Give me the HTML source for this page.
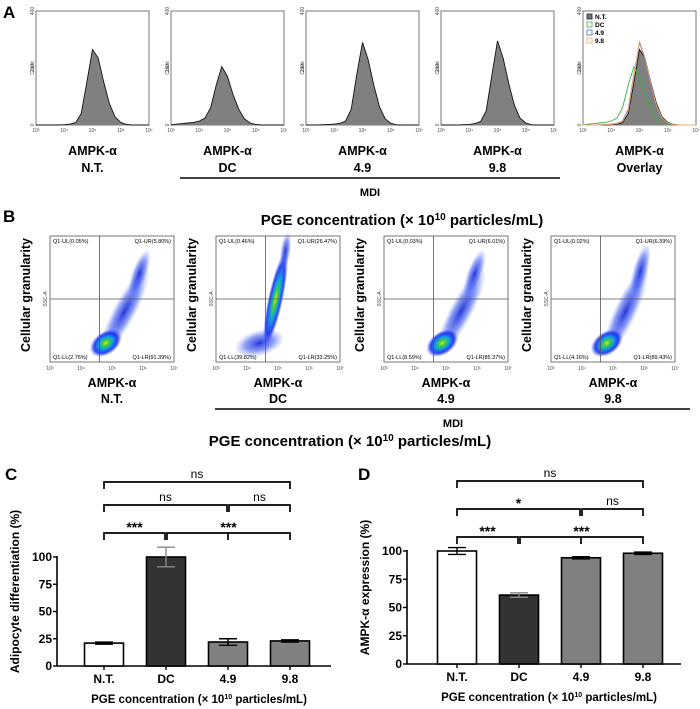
<!DOCTYPE html>
<html><head><meta charset="utf-8"><style>
body{margin:0;background:#fff}
svg{display:block;font-family:"Liberation Sans",Arial,sans-serif}
</style></head><body>
<svg id="fig" width="700" height="709" viewBox="0 0 700 709" xmlns="http://www.w3.org/2000/svg">
<defs>
<radialGradient id="blob" cx="50%" cy="50%" r="50%">
<stop offset="0" stop-color="#f0e000"/><stop offset="0.2" stop-color="#40d040"/><stop offset="0.45" stop-color="#10a0e0"/><stop offset="0.75" stop-color="#1020f0" stop-opacity="0.85"/><stop offset="1" stop-color="#4060ff" stop-opacity="0.1"/>
</radialGradient>
<radialGradient id="blue" cx="50%" cy="50%" r="50%">
<stop offset="0" stop-color="#0018d0" stop-opacity="0.85"/><stop offset="0.6" stop-color="#2040f0" stop-opacity="0.5"/><stop offset="1" stop-color="#6080ff" stop-opacity="0.05"/>
</radialGradient>
</defs>
<g id="panelA"></g>
<g id="panelB"></g>
<g id="panelC"></g>
<g id="panelD"></g>
</svg>
<script>
// ---------- data ----------
const histBinsLog = [3.0,3.2,3.4,3.6,3.8,4.0,4.2,4.4,4.6,4.8,5.0,5.2,5.4,5.6,5.8,6.0,6.2,6.4,6.6,6.8,7.0];
const histNT  = [0,0,0,0,0,1,3,8,40,150,265,235,150,75,28,9,2,0,0,0,0];
const histDC  = [0,3,5,7,9,14,24,60,140,205,170,105,55,22,7,2,0,0,0,0,0];
const hist49  = [0,0,0,1,2,3,6,14,55,180,290,230,140,65,22,6,1,0,0,0,0];
const hist98  = [0,0,0,0,1,2,5,12,50,175,295,235,145,68,24,7,1,0,0,0,0];
const histLabels = [["AMPK-α","N.T."],["AMPK-α","DC"],["AMPK-α","4.9"],["AMPK-α","9.8"],["AMPK-α","Overlay"]];
const scatterQuads = [["0.05","5.80","2.76","91.39"],["0.46","26.47","39.82","33.25"],["0.03","6.01","8.59","85.37"],["0.02","6.39","4.16","89.43"]];
const scatterLabels = ["N.T.","DC","4.9","9.8"];
const barCategories = ["N.T.","DC","4.9","9.8"];
const adipoValues = [21,100,22,23];
const adipoErrors = [1,9,3,1];
const ampkValues = [100,61,94,98];
const ampkErrors = [3,2,1,1];
const yTicks = [0,25,50,75,100];
const sigC = ["***","***","ns","ns","ns"];
const sigD = ["***","***","*","ns","ns"];

const NS="http://www.w3.org/2000/svg";
function mk(parent,tag,attrs,text){const e=document.createElementNS(NS,tag);for(const k in attrs)e.setAttribute(k,attrs[k]);if(text!==undefined)e.textContent=text;parent.appendChild(e);return e;}

// ---------- Panel A ----------
const A=document.getElementById('panelA');
const t0=mk(A,'text',{x:3,y:18,'font-size':17,'font-weight':'bold'},'A');


const boxXs=[36,171,306,441,583], bw=113, by=11, bh=114;
const series=[histNT,histDC,hist49,hist98];
const ovColors=["#222","#3cb043","#3a6fd0","#f5a860"];
function hx(bx,l){return bx+(l-3)/4*bw;}
function hy(c){return by+bh-c/400*bh;}
function pathFor(bx,arr){let d=`M${hx(bx,histBinsLog[0])},${hy(0)}`;arr.forEach((c,i)=>{d+=` L${hx(bx,histBinsLog[i]).toFixed(1)},${hy(c).toFixed(1)}`;});d+=` L${hx(bx,7)},${hy(0)}`;return d;}
boxXs.forEach((bx,p)=>{
  const g=mk(A,'g',{});
  
  
  mk(g,'rect',{x:bx,y:by,width:bw,height:bh,fill:'none',stroke:'#555','stroke-width':0.8});
  if(p<4){
    const pa=mk(g,'path',{d:pathFor(bx,series[p]),fill:'#808080',stroke:'#111','stroke-width':0.9});
    
    
  } else {
    mk(g,'path',{d:pathFor(bx,histNT),fill:'#808080',stroke:'#111','stroke-width':0.9});
    [histDC,hist49,hist98].forEach((arr,i)=>{
      const pl=mk(g,'path',{d:pathFor(bx,arr),fill:'none',stroke:ovColors[i+1],'stroke-width':0.9});
      
      
    });
    const lg=mk(g,'g',{});
    
    
    ["N.T.","DC","4.9","9.8"].forEach((n,i)=>{
      mk(lg,'rect',{x:bx+4,y:by+3+i*8,width:5,height:5,fill:i==0?'#777':'none',stroke:ovColors[i],'stroke-width':0.8});
      mk(lg,'text',{x:bx+12,y:by+8+i*8,'font-size':6.5,'font-weight':'bold'},n);
    });
  }
  [0,200,400].forEach(v=>{mk(g,'text',{x:bx-4,y:hy(v)+2,'font-size':5,transform:`rotate(-90 ${bx-4} ${hy(v)})`,'text-anchor':'middle',fill:'#444'},v);});
  mk(g,'text',{x:bx-4,y:by+bh/2+2,'font-size':5,transform:`rotate(-90 ${bx-4} ${by+bh/2})`,'text-anchor':'middle',fill:'#444'},'Count');
  [3,4,5,6,7].forEach(l=>{mk(g,'text',{x:hx(bx,l),y:by+bh+7,'font-size':5,'text-anchor':'middle',fill:'#444'},'10'+['³','⁴','⁵','⁶','⁷'][l-3]);});
  const cx=bx+bw/2;
  mk(g,'text',{x:cx,y:155,'font-size':12.5,'font-weight':'bold','text-anchor':'middle'},histLabels[p][0]);
  mk(g,'text',{x:cx,y:172,'font-size':12.5,'font-weight':'bold','text-anchor':'middle'},histLabels[p][1]);
});
mk(A,'line',{x1:180,x2:560,y1:178,y2:178,stroke:'#000','stroke-width':1.5});
mk(A,'text',{x:370,y:196,'font-size':11,'font-weight':'bold','text-anchor':'middle'},'MDI');

// ---------- Panel B ----------
const B=document.getElementById('panelB');
mk(B,'text',{x:3,y:222,'font-size':17,'font-weight':'bold'},'B');
const tB=mk(B,'text',{x:402,y:225,'font-size':15,'font-weight':'bold','text-anchor':'middle'});
tB.innerHTML='PGE concentration (× 10<tspan dy="-5" font-size="10">10</tspan><tspan dy="5"> particles/mL)</tspan>';
const sXs=[50,216,384,551], sw=124, sy=236, sh=126;
// [cx, cy, rx, ry, gradient, rotation]
const shapes=[
 [[0.6,0.6,0.09,0.38,'blue',28],[0.72,0.3,0.06,0.2,'blue',20],[0.45,0.85,0.14,0.09,'blob',-35]],
 [[0.35,0.85,0.2,0.1,'blue',-15],[0.48,0.5,0.06,0.38,'blob',12],[0.56,0.12,0.04,0.15,'blue',8]],
 [[0.62,0.6,0.09,0.38,'blue',28],[0.73,0.3,0.06,0.2,'blue',20],[0.47,0.85,0.14,0.09,'blob',-35]],
 [[0.6,0.6,0.09,0.38,'blue',25],[0.72,0.28,0.06,0.22,'blue',15],[0.45,0.85,0.14,0.09,'blob',-35]]];
sXs.forEach((bx,p)=>{
  const g=mk(B,'g',{});
  
  
  mk(g,'rect',{x:bx,y:sy,width:sw,height:sh,fill:'#fff',stroke:'#555','stroke-width':0.8});
  shapes[p].forEach(s=>{const cx=bx+s[0]*sw,cy=sy+s[1]*sh;mk(g,'ellipse',{cx:cx,cy:cy,rx:s[2]*sw,ry:s[3]*sh,fill:`url(#${s[4]})`,transform:`rotate(${s[5]} ${cx} ${cy})`});});
  mk(g,'line',{x1:bx+sw*0.4,x2:bx+sw*0.4,y1:sy,y2:sy+sh,stroke:'#555','stroke-width':0.8});
  mk(g,'line',{x1:bx,x2:bx+sw,y1:sy+sh*0.5,y2:sy+sh*0.5,stroke:'#555','stroke-width':0.8});
  const q=scatterQuads[p];
  mk(g,'text',{x:bx+3,y:sy+7,'font-size':5.5},`Q1-UL(${q[0]}%)`);
  mk(g,'text',{x:bx+sw-3,y:sy+7,'font-size':5.5,'text-anchor':'end'},`Q1-UR(${q[1]}%)`);
  mk(g,'text',{x:bx+3,y:sy+sh-3,'font-size':5.5},`Q1-LL(${q[2]}%)`);
  mk(g,'text',{x:bx+sw-3,y:sy+sh-3,'font-size':5.5,'text-anchor':'end'},`Q1-LR(${q[3]}%)`);
  mk(g,'text',{x:bx-5,y:sy+sh/2+2,'font-size':5,transform:`rotate(-90 ${bx-5} ${sy+sh/2})`,'text-anchor':'middle',fill:'#444'},'SSC-A');
  const yl=mk(g,'text',{x:bx-21,y:sy+sh/2+5,'font-size':12.5,'font-weight':'bold',transform:`rotate(-90 ${bx-25} ${sy+sh/2})`,'text-anchor':'middle'},'Cellular granularity');
  
  
  [3,4,5,6,7].forEach(l=>{mk(g,'text',{x:bx+(l-3)/4*sw,y:sy+sh+8,'font-size':5,'text-anchor':'middle',fill:'#444'},'10'+['³','⁴','⁵','⁶','⁷'][l-3]);});
  mk(g,'text',{x:bx+sw/2,y:387,'font-size':12.5,'font-weight':'bold','text-anchor':'middle'},'AMPK-α');
  mk(g,'text',{x:bx+sw/2,y:403,'font-size':12.5,'font-weight':'bold','text-anchor':'middle'},scatterLabels[p]);
});
mk(B,'line',{x1:215,x2:690,y1:409,y2:409,stroke:'#000','stroke-width':1.5});
mk(B,'text',{x:453,y:427,'font-size':11,'font-weight':'bold','text-anchor':'middle'},'MDI');
const tB2=mk(B,'text',{x:350,y:446,'font-size':15,'font-weight':'bold','text-anchor':'middle'});
tB2.innerHTML='PGE concentration (× 10<tspan dy="-5" font-size="10">10</tspan><tspan dy="5"> particles/mL)</tspan>';

// ---------- Bar charts ----------
function barChart(G,cfg){
  const {axisX,zeroY,hundredY,centers,vals,errs,fills,title,brY,sig,letter}=cfg;
  const ys=v=>zeroY-(v/100)*(zeroY-hundredY);
  mk(G,'text',{x:letter[0],y:letter[1],'font-size':17,'font-weight':'bold'},letter[2]);
  mk(G,'line',{x1:axisX,x2:axisX,y1:ys(0),y2:ys(100)-1,stroke:'#000','stroke-width':1.6});
  mk(G,'line',{x1:axisX,x2:axisX+274,y1:ys(0),y2:ys(0),stroke:'#000','stroke-width':1.6});
  yTicks.forEach(t=>{
    mk(G,'line',{x1:axisX-4,x2:axisX,y1:ys(t),y2:ys(t),stroke:'#000','stroke-width':1.4});
    mk(G,'text',{x:axisX-5,y:ys(t)+4,'font-size':12,'font-weight':'bold','text-anchor':'end'},t);
  });
  const bwid=39;
  barCategories.forEach((c,i)=>{
    const r=mk(G,'rect',{x:centers[i]-bwid/2,y:ys(vals[i]),width:bwid,height:ys(0)-ys(vals[i]),fill:fills[i],stroke:'#000','stroke-width':1.6});
    
    
    const e=mk(G,'path',{d:`M${centers[i]},${ys(vals[i]-errs[i])} V${ys(vals[i]+errs[i])} M${centers[i]-9},${ys(vals[i]+errs[i])} H${centers[i]+9} M${centers[i]-9},${ys(vals[i]-errs[i])} H${centers[i]+9}`,stroke:i==1?'#888':'#000','stroke-width':1.4,fill:'none'});
    
    
    mk(G,'line',{x1:centers[i],x2:centers[i],y1:ys(0),y2:ys(0)+4,stroke:'#000','stroke-width':1.4});
    mk(G,'text',{x:centers[i],y:ys(0)+17,'font-size':12,'font-weight':'bold','text-anchor':'middle'},c);
  });
  const xt=mk(G,'text',{x:(axisX+axisX+274)/2+5,y:ys(0)+37,'font-size':11.5,'font-weight':'bold','text-anchor':'middle'});
  xt.innerHTML='PGE concentration (× 10<tspan dy="-4" font-size="7">10</tspan><tspan dy="4"> particles/mL)</tspan>';
  const yt=mk(G,'text',{x:axisX-38,y:(ys(0)+ys(100))/2-20,'font-size':12,'font-weight':'bold','text-anchor':'middle',transform:`rotate(-90 ${axisX-38} ${(ys(0)+ys(100))/2-20})`},title);
  
  
  const br=(x1,x2,y,txt)=>{
    const p=mk(G,'path',{d:`M${x1},${y+7} V${y} H${x2} V${y+7}`,stroke:'#000','stroke-width':1.7,fill:'none'});
    
    
    mk(G,'text',{x:(x1+x2)/2,y:txt=='ns'?y-4:y-1,'font-size':txt=='ns'?12:14,'text-anchor':'middle','font-weight':txt=='ns'?'normal':'bold'},txt);
  };
  br(centers[0],centers[1]-1,brY[0],sig[0]);
  br(centers[1]+1,centers[3],brY[0],sig[1]);
  mk(G,'line',{x1:centers[2],x2:centers[2],y1:brY[0],y2:brY[0]+7,stroke:'#000','stroke-width':1.7});
  br(centers[0],centers[2]-1,brY[1],sig[2]);
  br(centers[2]+1,centers[3],brY[1],sig[3]);
  br(centers[0],centers[3],brY[2],sig[4]);
}
const C=document.getElementById('panelC');
barChart(C,{axisX:57,zeroY:666,hundredY:557,centers:[104,166,228,290],vals:adipoValues,errs:adipoErrors,fills:['#fff','#333','#808080','#808080'],title:'Adipocyte differentiation (%)',brY:[533,505,482],sig:sigC,letter:[5,480,'C']});
const D=document.getElementById('panelD');
barChart(D,{axisX:407,zeroY:664,hundredY:551,centers:[457,519,581,643],vals:ampkValues,errs:ampkErrors,fills:['#fff','#333','#808080','#808080'],title:'AMPK-α expression (%)',brY:[537,509,481],sig:sigD,letter:[358,480,'D']});
</script>
</body></html>
